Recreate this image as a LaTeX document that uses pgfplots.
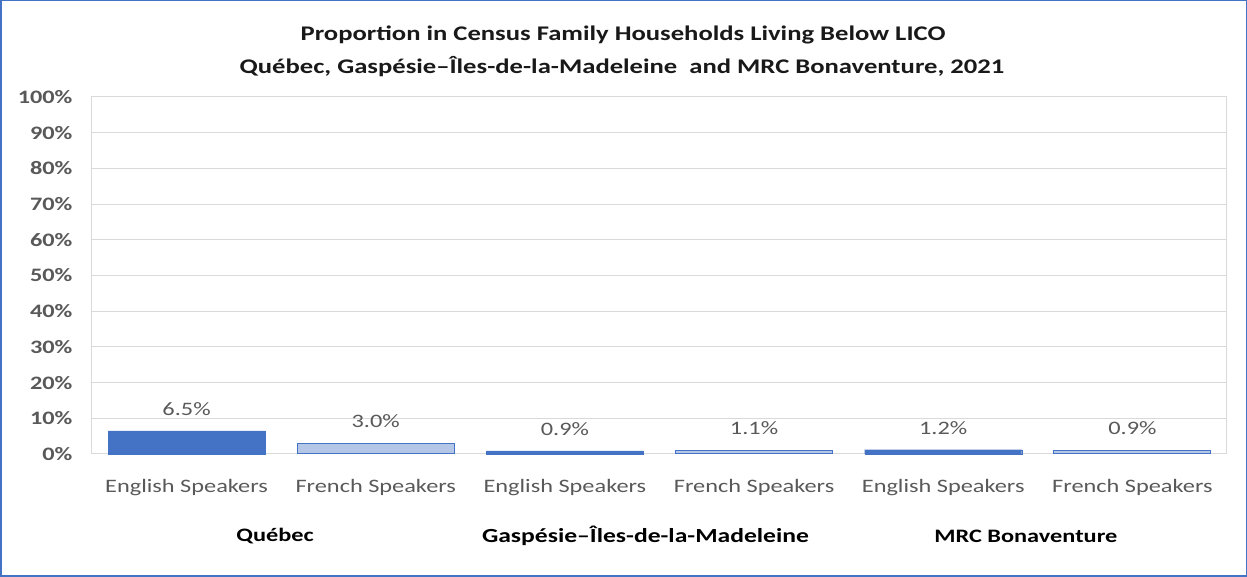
\documentclass[border=0pt]{standalone}
\usepackage{pgfplots}
\pgfplotsset{compat=1.18}
\usepackage{fontspec}
\setmainfont{Carlito}[FakeStretch=1.28]
\definecolor{frame}{HTML}{4472C4}
\definecolor{engl}{HTML}{4472C4}
\definecolor{fren}{HTML}{B4C7E7}
\definecolor{tickgray}{HTML}{595959}
\definecolor{gridgray}{HTML}{D9D9D9}
\begin{document}
\begin{tikzpicture}[x=1pt,y=1pt]
\path[use as bounding box] (0,0) rectangle (1247,577);
\draw[frame, line width=1.5pt] (0.75,0.75) rectangle (1246.25,576.25);
\begin{axis}[
  at={(92pt,123pt)}, anchor=south west,
  scale only axis, width=1135pt, height=357pt,
  ymin=0, ymax=100, ytick={0,10,...,100},
  yticklabel={\pgfmathprintnumber{\tick}\%},
  /pgf/number format/assume math mode=true,
  yticklabel style={font=\fontsize{19}{22}\selectfont\bfseries, text=tickgray, xshift=-16pt},
  xmin=-0.5, xmax=5.5, xtick={0,1,2,3,4,5},
  xticklabels={English Speakers,French Speakers,English Speakers,French Speakers,English Speakers,French Speakers},
  xticklabel style={font=\fontsize{19}{22}\selectfont, text=tickgray, yshift=-22pt},
  major tick length=0pt,
  ymajorgrids, grid style={gridgray, line width=1pt},
  axis line style={gridgray, line width=1pt},
  ybar, bar width=157pt, bar shift=0pt,
  nodes near coords={\pgfmathprintnumber[fixed,fixed zerofill,precision=1]{\pgfplotspointmeta}\%},
  nodes near coords style={font=\fontsize{19}{22}\selectfont, text=tickgray, yshift=12pt},
  clip=false,
]
\addplot[fill=engl, draw=engl] coordinates {(0,6.5) (2,0.9) (4,1.2)};
\addplot[fill=fren, draw=engl, line width=1pt] coordinates {(1,3.0) (3,1.1) (5,0.9)};
\node[font=\fontsize{19}{22}\selectfont\bfseries, text=black] at (axis cs:0.5,0) [yshift=-82pt, xshift=-6pt] {Québec};
\node[font=\fontsize{20}{22}\selectfont\bfseries, text=black] at (axis cs:2.5,0) [yshift=-82pt, xshift=-14pt] {Gaspésie–Îles-de-la-Madeleine};
\node[font=\fontsize{19}{22}\selectfont\bfseries, text=black] at (axis cs:4.5,0) [yshift=-82pt, xshift=-12pt] {MRC Bonaventure};
\end{axis}
\node[font=\fontsize{20.8}{24}\selectfont\bfseries, text=black!90] at (623,542) {Proportion in Census Family Households Living Below LICO};
\node[font=\fontsize{20.8}{24}\selectfont\bfseries, text=black!90] at (622,510) {Québec, Gaspésie–Îles-de-la-Madeleine\ \ and MRC Bonaventure, 2021};
\end{tikzpicture}
\end{document}
